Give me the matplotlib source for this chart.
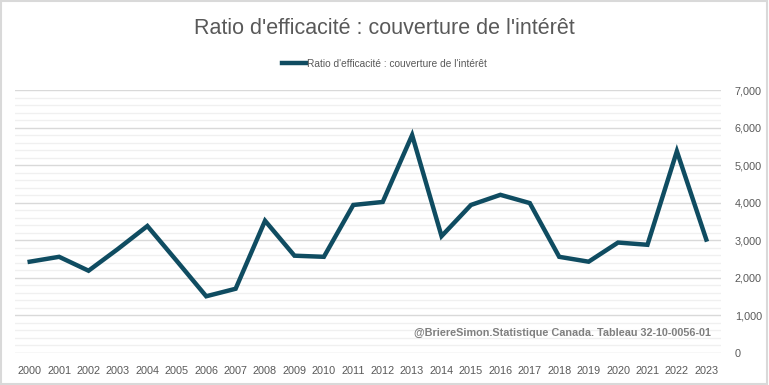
import matplotlib.pyplot as plt
from matplotlib.ticker import MultipleLocator, FuncFormatter
from matplotlib.patches import Rectangle

years = [str(y) for y in range(2000, 2024)]
ratio = [2430, 2560, 2190, 2770, 3380, 2450, 1510, 1710, 3520, 2590, 2560,
         3940, 4020, 5800, 3110, 3940, 4210, 3990, 2560, 2430, 2940, 2880,
         5370, 3020]

title = "Ratio d'efficacité : couverture de l'intérêt"
source = "@BriereSimon.Statistique Canada. Tableau 32-10-0056-01"

plt.rcParams['font.family'] = ['Liberation Sans', 'DejaVu Sans']

fig = plt.figure(figsize=(7.69, 3.85), dpi=100)
fig.patches.append(Rectangle((0.001, 0.002), 0.997, 0.995, transform=fig.transFigure,
                             fill=False, edgecolor='#d9d9d9', linewidth=1.5))
ax = fig.add_axes([15 / 769, 1 - 353 / 385, 706 / 769, 263 / 385])

x = range(len(years))
ax.plot(x, ratio, color='#0f4c61', linewidth=3.2, solid_joinstyle='miter',
        label=title, zorder=3)

ax.set_xlim(-0.5, len(years) - 0.5)
ax.set_ylim(0, 7000)
ax.set_xticks(list(x))
ax.set_xticklabels(years)
ax.yaxis.set_major_locator(MultipleLocator(1000))
ax.yaxis.set_minor_locator(MultipleLocator(200))
ax.yaxis.set_major_formatter(FuncFormatter(lambda v, p: f"{int(v):,}"))
ax.yaxis.tick_right()
ax.grid(axis='y', which='major', color='#d9d9d9', linewidth=1)
ax.grid(axis='y', which='minor', color='#f0f0f0', linewidth=1)
ax.set_axisbelow(True)
ax.tick_params(axis='both', which='both', length=0, labelsize=7.8, colors='#595959')
ax.tick_params(axis='x', pad=9)
ax.tick_params(axis='y', pad=10)
for s in ax.spines.values():
    s.set_visible(False)

fig.text(0.5, 1 - 28 / 385, title, ha='center', va='center', fontsize=15.5, color='#595959')
leg = fig.legend(loc='center', bbox_to_anchor=(0.5, 1 - 64 / 385), frameon=False,
                 fontsize=7.3, handlelength=2.4, handletextpad=0.1)
for t in leg.get_texts():
    t.set_color('#595959')

ax.text(0.985, 0.075, source, transform=ax.transAxes, ha='right', va='center',
        fontsize=7.8, fontweight='bold', color='#7f7f7f')

fig.savefig('out.png', dpi=100)
